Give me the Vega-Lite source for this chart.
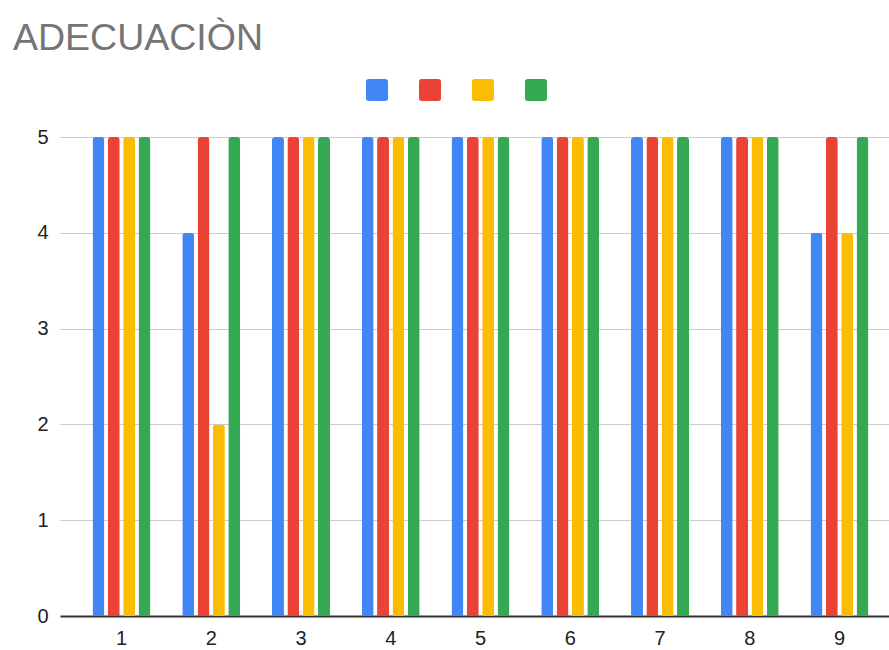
{
  "$schema": "https://vega.github.io/schema/vega-lite/v6.json",
  "autosize": "none",
  "width": 829,
  "height": 479,
  "padding": {"left": 60, "top": 137, "right": 0, "bottom": 34},
  "background": "white",
  "title": {
    "text": "ADECUACIÒN",
    "anchor": "start",
    "frame": "group",
    "dx": -47,
    "offset": 22,
    "fontSize": 37.5,
    "fontWeight": "normal",
    "font": "Liberation Sans",
    "color": "#757575"
  },
  "data": {
    "values": [
      {"item": "1", "serie": "A", "valor": 5},
      {"item": "1", "serie": "B", "valor": 5},
      {"item": "1", "serie": "C", "valor": 5},
      {"item": "1", "serie": "D", "valor": 5},
      {"item": "2", "serie": "A", "valor": 4},
      {"item": "2", "serie": "B", "valor": 5},
      {"item": "2", "serie": "C", "valor": 2},
      {"item": "2", "serie": "D", "valor": 5},
      {"item": "3", "serie": "A", "valor": 5},
      {"item": "3", "serie": "B", "valor": 5},
      {"item": "3", "serie": "C", "valor": 5},
      {"item": "3", "serie": "D", "valor": 5},
      {"item": "4", "serie": "A", "valor": 5},
      {"item": "4", "serie": "B", "valor": 5},
      {"item": "4", "serie": "C", "valor": 5},
      {"item": "4", "serie": "D", "valor": 5},
      {"item": "5", "serie": "A", "valor": 5},
      {"item": "5", "serie": "B", "valor": 5},
      {"item": "5", "serie": "C", "valor": 5},
      {"item": "5", "serie": "D", "valor": 5},
      {"item": "6", "serie": "A", "valor": 5},
      {"item": "6", "serie": "B", "valor": 5},
      {"item": "6", "serie": "C", "valor": 5},
      {"item": "6", "serie": "D", "valor": 5},
      {"item": "7", "serie": "A", "valor": 5},
      {"item": "7", "serie": "B", "valor": 5},
      {"item": "7", "serie": "C", "valor": 5},
      {"item": "7", "serie": "D", "valor": 5},
      {"item": "8", "serie": "A", "valor": 5},
      {"item": "8", "serie": "B", "valor": 5},
      {"item": "8", "serie": "C", "valor": 5},
      {"item": "8", "serie": "D", "valor": 5},
      {"item": "9", "serie": "A", "valor": 4},
      {"item": "9", "serie": "B", "valor": 5},
      {"item": "9", "serie": "C", "valor": 4},
      {"item": "9", "serie": "D", "valor": 5}
    ]
  },
  "mark": {
    "type": "bar",
    "cornerRadiusTopLeft": 3,
    "cornerRadiusTopRight": 3
  },
  "encoding": {
    "x": {
      "field": "item",
      "type": "nominal",
      "scale": {"paddingInner": 0.354, "paddingOuter": 0.362, "range": [0, 841]},
      "axis": {
        "title": null,
        "labelAngle": 0,
        "ticks": false,
        "domainColor": "#333333",
        "domainWidth": 2,
        "labelFont": "Liberation Sans",
        "labelFontSize": 20,
        "labelColor": "#222222",
        "labelPadding": 12,
        "grid": false
      }
    },
    "xOffset": {
      "field": "serie",
      "type": "nominal",
      "scale": {"paddingInner": 0.22, "paddingOuter": 0}
    },
    "y": {
      "field": "valor",
      "type": "quantitative",
      "scale": {"domain": [0, 5], "nice": false},
      "axis": {
        "title": null,
        "values": [0, 1, 2, 3, 4, 5],
        "domain": false,
        "ticks": false,
        "gridColor": "#cccccc",
        "gridWidth": 1,
        "labelFont": "Liberation Sans",
        "labelFontSize": 20,
        "labelColor": "#222222",
        "labelPadding": 12
      }
    },
    "color": {
      "field": "serie",
      "type": "nominal",
      "scale": {
        "domain": ["A", "B", "C", "D"],
        "range": ["#4285F4", "#EA4335", "#FBBC04", "#34A853"]
      },
      "legend": {
        "orient": "none",
        "legendX": 306,
        "legendY": -58,
        "direction": "horizontal",
        "title": null,
        "symbolType": "M-0.75,-1H0.75Q1,-1 1,-0.75V0.75Q1,1 0.75,1H-0.75Q-1,1 -1,0.75V-0.75Q-1,-1 -0.75,-1Z",
        "symbolSize": 484,
        "symbolStrokeWidth": 0,
        "symbolOpacity": 1,
        "labelExpr": "''",
        "labelOffset": 0,
        "labelFontSize": 1,
        "columnPadding": 31,
        "padding": 0
      }
    }
  },
  "config": {
    "view": {"stroke": null},
    "font": "Liberation Sans"
  }
}
